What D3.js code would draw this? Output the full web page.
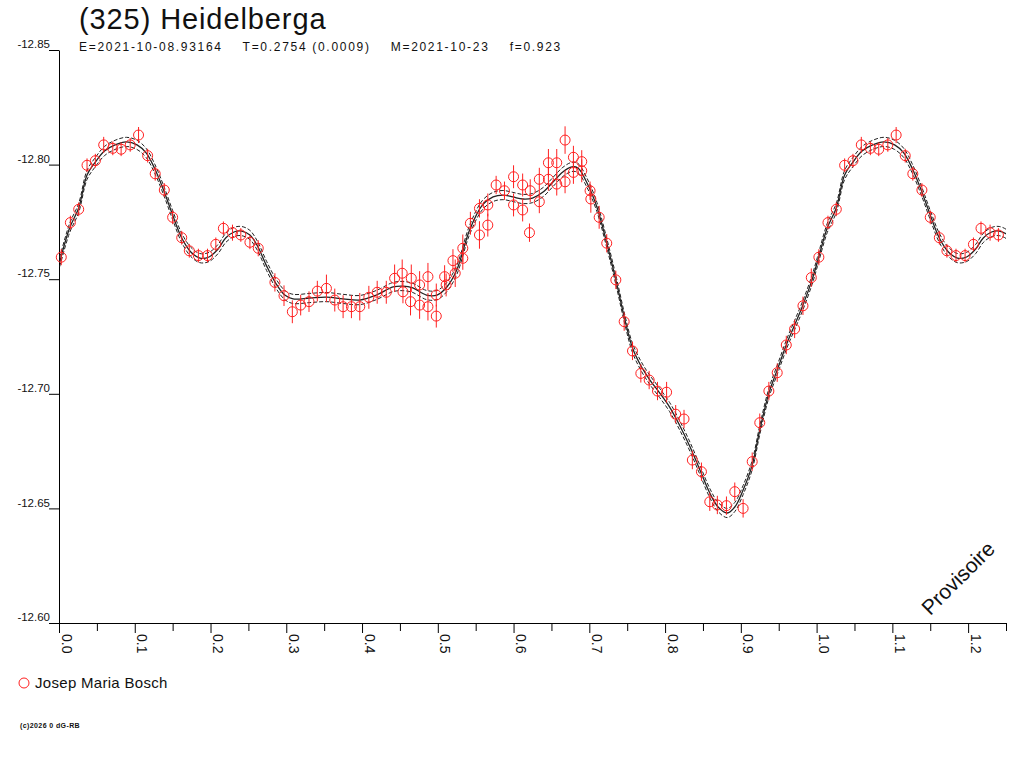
<!DOCTYPE html>
<html>
<head>
<meta charset="utf-8">
<script src="https://cdn.jsdelivr.net/npm/d3@7"></script>
<style>
body { margin: 0; background: #fff; }
text { font-family: "Liberation Sans", Arial, sans-serif; }
</style>
</head>
<body>
<div id="app"></div>
<script>
// observations (phase, magnitude, error) - phase 0..1, repeated after 1.0
const ptPhase = [
  0.003,0.015,0.026,0.037,0.048,0.059,0.071,0.082,0.094,0.105,0.117,0.127,0.139,0.150,0.162,0.172,0.184,0.196,0.207,0.217,0.229,0.240,0.252,0.263,
  0.285,0.297,0.308,0.319,0.330,0.341,0.353,0.364,0.375,0.386,0.397,0.409,0.420,0.432,0.443,0.453,0.454,0.465,0.464,0.476,0.476,0.487,0.487,0.498,0.498,0.509,0.511,0.520,0.523,
  0.533,0.533,0.543,0.555,0.555,0.566,0.566,0.577,0.588,0.600,0.600,0.612,0.612,0.622,0.621,0.634,0.634,0.646,0.646,0.657,0.657,0.668,0.668,0.679,0.679,0.690,0.690,0.701,0.702,0.713,0.723,0.735,0.746,
  0.757,0.768,0.779,0.790,0.802,0.814,0.825,0.836,0.848,0.859,0.869,0.881,0.892,0.903,0.915,0.925,0.937,0.948,0.960,0.971,0.982,0.993
]
const ptMag = [
  -12.7596,-12.7747,-12.7805,-12.7997,-12.8017,-12.8086,-12.8071,-12.8067,-12.8086,-12.8129,-12.8039,-12.7960,-12.7889,-12.7770,-12.7681,-12.7624,-12.7603,-12.7603,-12.7652,-12.7722,-12.7703,-12.7693,-12.7661,-12.7635,
  -12.7486,-12.7428,-12.7358,-12.7387,-12.7402,-12.7448,-12.7460,-12.7409,-12.7380,-12.7380,-12.7380,-12.7421,-12.7443,-12.7443,-12.7504,-12.7526,-12.7445,-12.7504,-12.7402,-12.7475,-12.7387,-12.7511,-12.7380,-12.7339,-12.7431,-12.7511,-12.7475,-12.7581,-12.7526,
  -12.7635,-12.7591,-12.7744,-12.7809,-12.7693,-12.7824,-12.7736,-12.7911,-12.7886,-12.7947,-12.7824,-12.7911,-12.7802,-12.7886,-12.7703,-12.7936,-12.7838,-12.8008,-12.7936,-12.8008,-12.7915,-12.8107,-12.7925,-12.8032,-12.7966,-12.8013,-12.7973,-12.7886,-12.7850,-12.7770,-12.7657,-12.7497,-12.7315,
  -12.7187,-12.7089,-12.7060,-12.7012,-12.7007,-12.6911,-12.6890,-12.6711,-12.6660,-12.6529,-12.6515,-12.6512,-12.6573,-12.6500,-12.6704,-12.6874,-12.7012,-12.7092,-12.7213,-12.7283,-12.7384,-12.7507
]
const ptErr = [
  0.0035,0.003,0.003,0.003,0.003,0.0035,0.003,0.003,0.003,0.0035,0.003,0.003,0.003,0.003,0.003,0.003,0.003,0.003,0.003,0.003,0.0035,0.003,0.003,0.0035,
  0.004,0.0045,0.005,0.0045,0.0045,0.0045,0.006,0.005,0.005,0.005,0.006,0.005,0.005,0.005,0.006,0.006,0.005,0.006,0.006,0.006,0.006,0.006,0.006,0.005,0.005,0.005,0.005,0.005,0.006,
  0.006,0.005,0.005,0.004,0.006,0.005,0.005,0.004,0.004,0.005,0.005,0.005,0.005,0.005,0.004,0.005,0.005,0.006,0.005,0.006,0.005,0.006,0.005,0.005,0.005,0.005,0.005,0.004,0.006,0.005,0.004,0.004,0.004,
  0.004,0.004,0.004,0.004,0.0045,0.004,0.004,0.004,0.004,0.004,0.004,0.004,0.004,0.004,0.004,0.004,0.004,0.004,0.004,0.004,0.004,0.004
]

// fitted light curve
const curvePhase = [0.001,0.014,0.026,0.037,0.048,0.060,0.074,0.089,0.103,0.115,0.126,0.138,0.150,0.162,0.174,0.186,0.198,0.210,0.220,0.231,0.241,0.252,0.262,0.274,0.286,0.298,0.309,0.331,0.353,0.375,0.397,0.419,0.441,0.454,0.467,0.485,0.499,0.512,0.525,0.542,0.559,0.573,0.586,0.599,0.612,0.625,0.639,0.652,0.665,0.677,0.685,0.697,0.710,0.723,0.736,0.747,0.757,0.769,0.780,0.793,0.806,0.819,0.833,0.846,0.859,0.870,0.882,0.892,0.903,0.915,0.925,0.937,0.949,0.961,0.971,0.982,0.994]
const curveMag = [-12.7575,-12.7723,-12.7811,-12.7955,-12.8011,-12.8059,-12.8086,-12.8099,-12.8086,-12.8051,-12.7985,-12.7889,-12.7780,-12.7680,-12.7619,-12.7592,-12.7597,-12.7632,-12.7680,-12.7706,-12.7710,-12.7693,-12.7645,-12.7558,-12.7483,-12.7431,-12.7414,-12.7418,-12.7422,-12.7414,-12.7409,-12.7431,-12.7466,-12.7470,-12.7462,-12.7431,-12.7431,-12.7466,-12.7540,-12.7715,-12.7824,-12.7859,-12.7867,-12.7859,-12.7850,-12.7854,-12.7880,-12.7924,-12.7968,-12.7990,-12.7985,-12.7920,-12.7815,-12.7658,-12.7483,-12.7322,-12.7200,-12.7117,-12.7060,-12.7003,-12.6942,-12.6864,-12.6768,-12.6668,-12.6567,-12.6506,-12.6480,-12.6506,-12.6580,-12.6689,-12.6842,-12.7003,-12.7113,-12.7222,-12.7300,-12.7387,-12.7497]
const curveSigma = 0.002

const yTicks = [-12.85, -12.80, -12.75, -12.70, -12.65, -12.60]
const xTicks = [0.0, 0.1, 0.2, 0.3, 0.4, 0.5, 0.6, 0.7, 0.8, 0.9, 1.0, 1.1, 1.2]
const xMinor = [0.05, 0.15, 0.25, 0.35, 0.45, 0.55, 0.65, 0.75, 0.85, 0.95, 1.05, 1.15, 1.25]

const title = "(325) Heidelberga"
const subtitle = "E=2021-10-08.93164    T=0.2754 (0.0009)    M=2021-10-23    f=0.923"
const observer = "Josep Maria Bosch"
const copyright = "(c)2026 0 dG-RB"
const stamp = "Provisoire"

const W = 1024, H = 768
const svg = d3.select("#app").append("svg").attr("width", W).attr("height", H)

const x = d3.scaleLinear().domain([0, 1.25]).range([59, 1006])
const y = d3.scaleLinear().domain([-12.85, -12.60]).range([50, 623])

// data with wrap-around past phase 1
const pts = []
for (let i = 0; i < ptPhase.length; i++) {
  pts.push({p: ptPhase[i], m: ptMag[i], e: ptErr[i]})
  if (ptPhase[i] + 1 <= 1.25) pts.push({p: ptPhase[i] + 1, m: ptMag[i], e: ptErr[i]})
}
const curve = curvePhase.map((p, i) => ({p: p, m: curveMag[i]}))
curvePhase.forEach((p, i) => { if (p + 1 <= 1.28) curve.push({p: p + 1, m: curveMag[i]}) })

svg.append("defs").append("clipPath").attr("id", "plot")
  .append("rect").attr("x", 59).attr("y", 50).attr("width", 947).attr("height", 573)

// title
svg.append("text").attr("x", 79).attr("y", 29).attr("font-size", 29).attr("letter-spacing", 0.9)
  .attr("fill", "#111").text(title)
svg.append("text").attr("x", 79).attr("y", 51).attr("font-size", 12).attr("letter-spacing", 1.7)
  .attr("fill", "#111").style("white-space", "pre").text(subtitle)

// y axis
const yAxis = d3.axisLeft(y).tickValues(yTicks).tickSize(10).tickSizeOuter(0).tickPadding(-1)
  .tickFormat(d => d.toFixed(2))
const gy = svg.append("g").attr("transform", "translate(59,0)").call(yAxis)
gy.selectAll("text").attr("dy", "-0.2em").attr("font-size", 11.5).attr("font-family", "Liberation Sans, Arial")
  .attr("fill", "#111")
gy.selectAll("line, path").attr("stroke", "#000")

// x axis
const xAxis = d3.axisBottom(x).tickValues(xTicks).tickSize(10).tickSizeOuter(0).tickFormat(d3.format(".1f"))
const gx = svg.append("g").attr("transform", "translate(0,623)").call(xAxis)
gx.selectAll("text").attr("transform", "rotate(90)").attr("x", 11).attr("y", -2).attr("dy", 0)
  .attr("text-anchor", "start").attr("font-size", 14).attr("font-family", "Liberation Sans, Arial")
  .attr("fill", "#111")
gx.selectAll("line, path").attr("stroke", "#000")
const gxm = svg.append("g").attr("transform", "translate(0,623)")
  .call(d3.axisBottom(x).tickValues(xMinor).tickSize(8).tickSizeOuter(0).tickFormat(""))
gxm.select(".domain").remove()
gxm.selectAll("line").attr("stroke", "#000")

// fit curve and its envelope
const plot = svg.append("g").attr("clip-path", "url(#plot)")
const lineGen = off => d3.line().x(d => x(d.p)).y(d => y(d.m + off)).curve(d3.curveCatmullRom)
plot.append("path").datum(curve).attr("d", lineGen(-curveSigma)).attr("fill", "none")
  .attr("stroke", "#222").attr("stroke-width", 1).attr("stroke-dasharray", "4,2")
plot.append("path").datum(curve).attr("d", lineGen(curveSigma)).attr("fill", "none")
  .attr("stroke", "#222").attr("stroke-width", 1).attr("stroke-dasharray", "4,2")
plot.append("path").datum(curve).attr("d", lineGen(0)).attr("fill", "none")
  .attr("stroke", "#222").attr("stroke-width", 1.3)

// observations
const obs = svg.append("g")
obs.selectAll("line.err").data(pts).join("line").attr("class", "err")
  .attr("x1", d => x(d.p)).attr("x2", d => x(d.p))
  .attr("y1", d => y(d.m - d.e)).attr("y2", d => y(d.m + d.e))
  .attr("stroke", "#ff2020").attr("stroke-width", 1)
obs.selectAll("circle").data(pts).join("circle")
  .attr("cx", d => x(d.p)).attr("cy", d => y(d.m)).attr("r", 5)
  .attr("fill", "none").attr("stroke", "#ff2020").attr("stroke-width", 1)

// stamp
svg.append("text").attr("transform", "translate(958,578) rotate(-45)").attr("text-anchor", "middle")
  .attr("dy", "0.35em").attr("font-size", 21).attr("fill", "#111").text(stamp)

// legend
svg.append("circle").attr("cx", 24).attr("cy", 683).attr("r", 5).attr("fill", "none").attr("stroke", "#ff2020")
svg.append("text").attr("x", 35).attr("y", 688).attr("font-size", 15).attr("letter-spacing", 0.3)
  .attr("fill", "#111").text(observer)

svg.append("text").attr("x", 20).attr("y", 728).attr("font-size", 7).attr("font-weight", "bold")
  .attr("letter-spacing", 0.4).attr("fill", "#111").text(copyright)
</script>
</body>
</html>
